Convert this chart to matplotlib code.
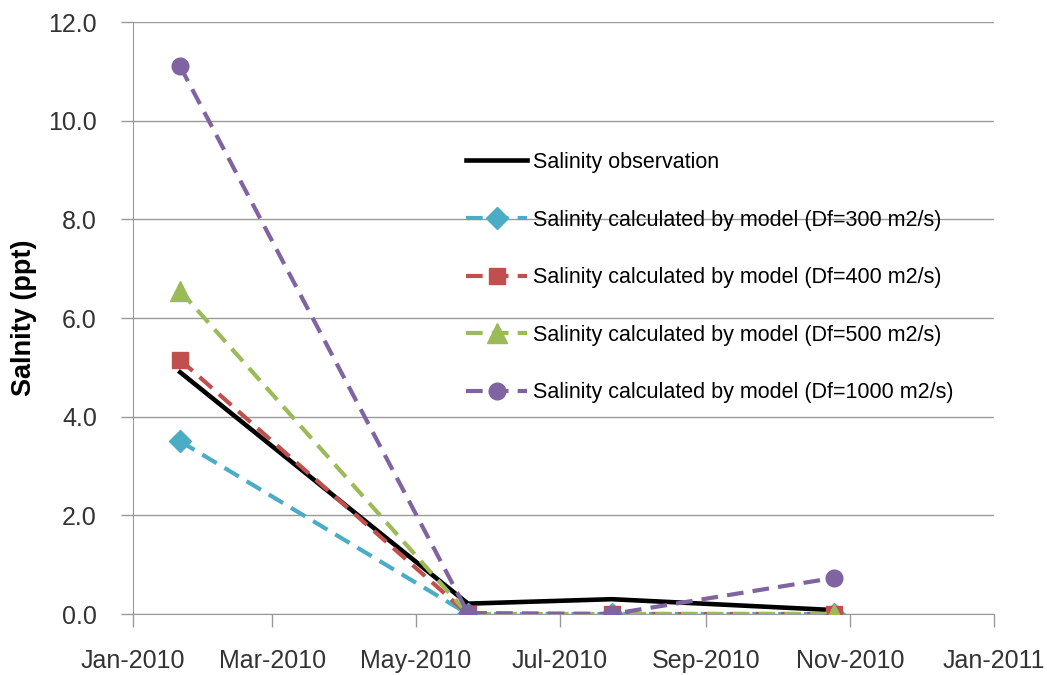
import datetime as dt
import matplotlib
matplotlib.use("Agg")
import matplotlib.pyplot as plt
import matplotlib.dates as mdates

plt.rcParams['font.family'] = ['Liberation Sans', 'DejaVu Sans']

dates = [dt.date(2010, 1, 21), dt.date(2010, 5, 23), dt.date(2010, 7, 23), dt.date(2010, 10, 25)]
obs = [4.9, 0.21, 0.3, 0.08]
df300 = [3.5, 0.0, 0.0, 0.0]
df400 = [5.15, 0.0, 0.0, 0.0]
df500 = [6.55, 0.0, 0.0, 0.0]
df1000 = [11.1, 0.02, 0.0, 0.73]

labels = ["Salinity observation",
          "Salinity calculated by model (Df=300 m2/s)",
          "Salinity calculated by model (Df=400 m2/s)",
          "Salinity calculated by model (Df=500 m2/s)",
          "Salinity calculated by model (Df=1000 m2/s)"]

fig = plt.figure(figsize=(10.47, 6.75), dpi=100)
ax = fig.add_axes([133 / 1047, 61 / 675, 861 / 1047, 592 / 675])

dash = (0, (4, 2.2))
ax.plot(dates, obs, color="black", lw=3.3, label=labels[0], zorder=3)
ax.plot(dates, df300, color="#4BACC6", lw=3, ls=dash, marker="D", ms=11, label=labels[1], zorder=4)
ax.plot(dates, df400, color="#C0504D", lw=3, ls=dash, marker="s", ms=11, label=labels[2], zorder=4)
ax.plot(dates, df500, color="#9BBB59", lw=3, ls=dash, marker="^", ms=14, label=labels[3], zorder=4)
ax.plot(dates, df1000, color="#8064A2", lw=3, ls=dash, marker="o", ms=12, label=labels[4], zorder=4)

ax.set_xlim(dt.date(2010, 1, 1), dt.date(2011, 1, 1))
ax.set_ylim(0, 12)
ax.set_yticks(range(0, 13, 2))
ax.yaxis.set_major_formatter(matplotlib.ticker.FormatStrFormatter("%.1f"))
ax.xaxis.set_major_locator(mdates.MonthLocator(bymonth=[1, 3, 5, 7, 9, 11]))
ax.xaxis.set_major_formatter(mdates.DateFormatter("%b-%Y"))

ax.grid(axis="y", color="#999999", lw=1)
ax.set_axisbelow(True)
for s in ["top", "right"]:
    ax.spines[s].set_visible(False)
for s in ["left", "bottom"]:
    ax.spines[s].set_color("#999999")
ax.tick_params(axis="both", colors="#999999", labelcolor="#333333", labelsize=18, length=9, width=1)
ax.tick_params(axis="x", pad=16.5)
ax.tick_params(axis="y", pad=17)

ax.set_ylabel("Salnity (ppt)", fontsize=19.5, fontweight="bold", labelpad=8)

leg = ax.legend(loc="upper left", bbox_to_anchor=(466 / 1047, 1 - 152 / 675),
                bbox_transform=fig.transFigure, frameon=False, fontsize=15.5,
                handlelength=2.85, handletextpad=0.28, labelspacing=1.7,
                borderpad=0, borderaxespad=0)

fig.savefig("out.png", dpi=100)
